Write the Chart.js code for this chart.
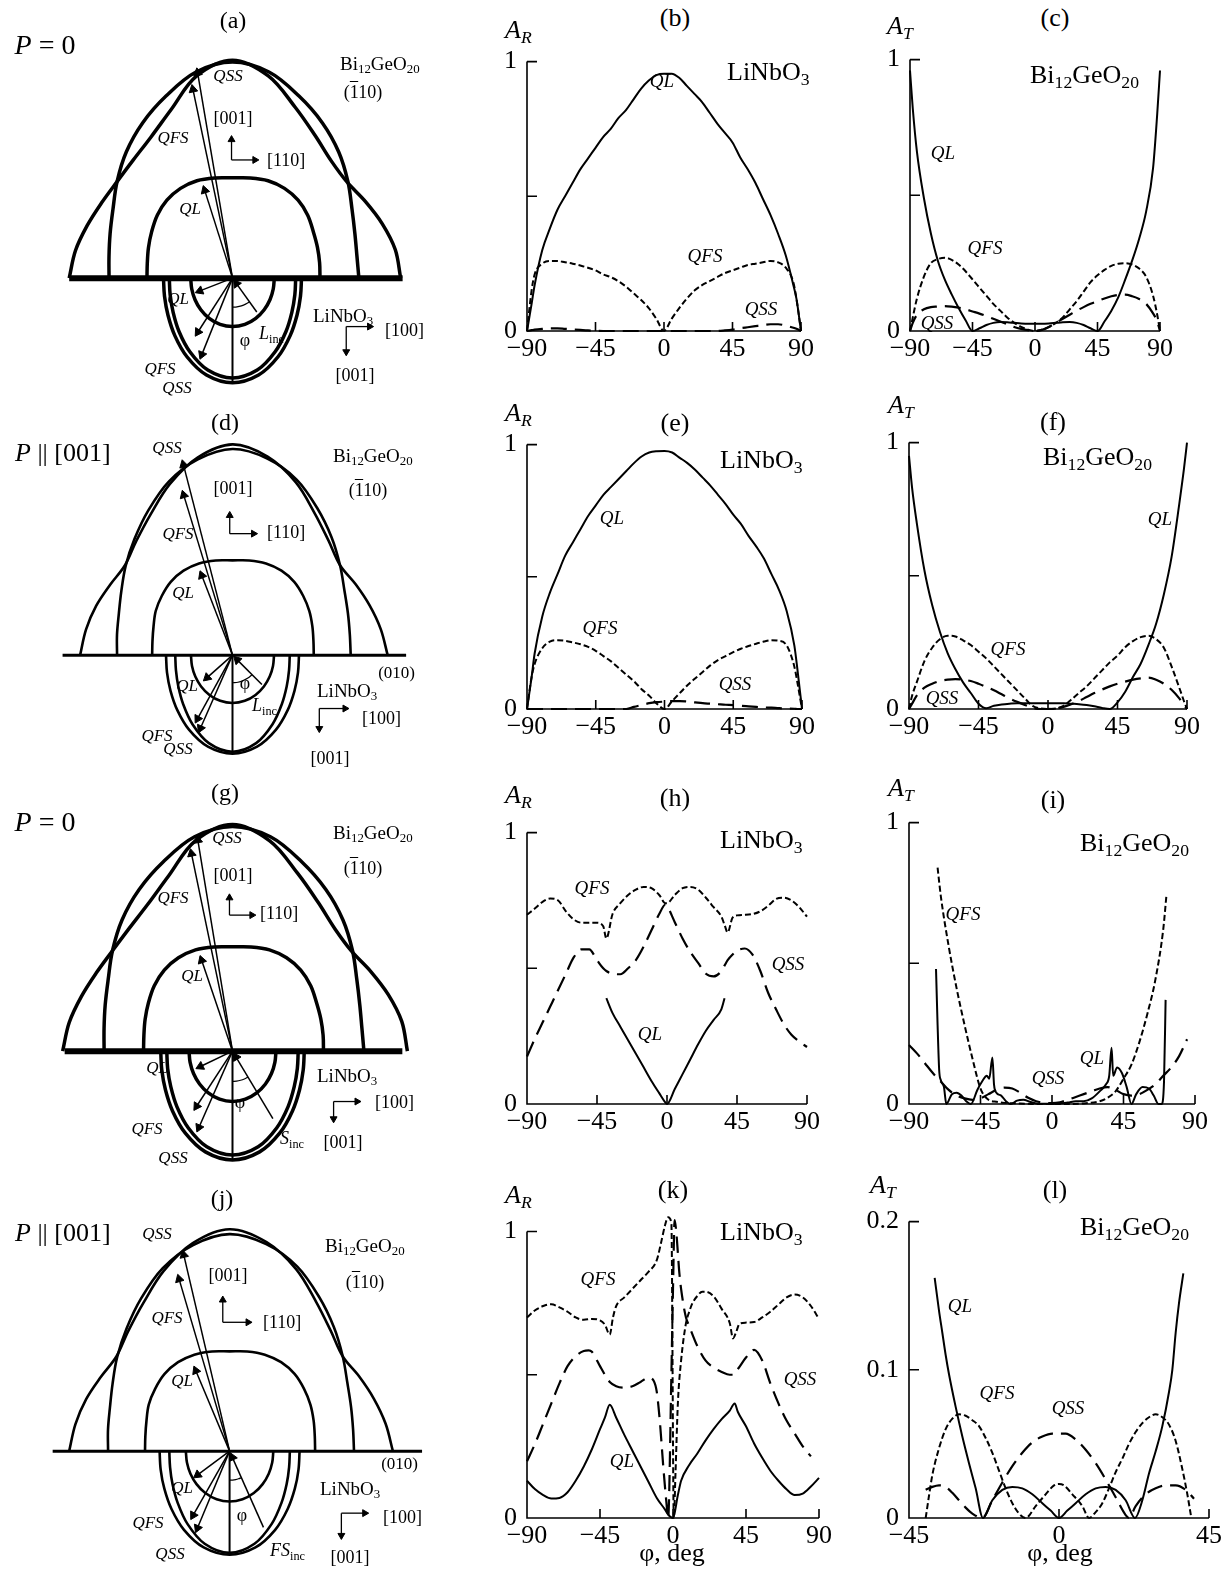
<!DOCTYPE html>
<html>
<head>
<meta charset="utf-8">
<script src="https://cdn.jsdelivr.net/npm/chart.js@4.4.1/dist/chart.umd.min.js"></script>
<style>
  body { margin: 0; background: #fff; }
  #page { position: relative; width: 1228px; height: 1581px; overflow: hidden; background: #fff;
          font-family: 'Liberation Serif', 'Times New Roman', serif; color: #000; }
  canvas { position: absolute; }
  .t { position: absolute; white-space: nowrap; line-height: 1; transform: translate(-50%, -50%); }
  .t.l { transform: translate(0, -50%); }
  .t.r { transform: translate(-100%, -50%); }
  .t sub { font-size: 0.68em; vertical-align: -0.3em; line-height: 0; }
  .ov { text-decoration: overline; }
</style>
</head>
<body>
<div id="page"></div>
<script>
// ---------- amplitude curves (phi in degrees) ----------
const bPhi = [-90,-87,-85,-80,-75,-70,-65,-60,-55,-50,-45,-40,-35,-30,-25,-20,-15,-10,-5,0,5,10,15,20,25,30,35,40,45,50,55,60,65,70,75,80,85,87,90];
const bQL  = [0,0.1,0.17, 0.3,0.38,0.45,0.5,0.55,0.6,0.64,0.68,0.72,0.75,0.79,0.82,0.86,0.9,0.93,0.95, 0.955, 0.955,0.94,0.91,0.88,0.85,0.81,0.77,0.735,0.7,0.645,0.6,0.55,0.49,0.43,0.36,0.28,0.17, 0.12,0];
const bQFS = [0,0.15,0.21, 0.25,0.26,0.26,0.255,0.25,0.243,0.235,0.225,0.21,0.2,0.185,0.165,0.14,0.115,0.085,0.045, 0, 0.045,0.085,0.12,0.15,0.17,0.185,0.2,0.215,0.225,0.235,0.245,0.25,0.255,0.26,0.255,0.235,0.18, 0.12,0];
const bQSS = [0,0.003,0.005, 0.008,0.01,0.01,0.008,0.006,0.004,0.002,0.001,0,0,0,0,0,0,0,0, 0, 0,0,0,0,0,0,0,0.002,0.005,0.01,0.014,0.018,0.022,0.025,0.025,0.02,0.012, 0.008,0];

const cPhi = [-90,-88,-85,-80,-75,-70,-65,-60,-55,-50,-45,-40,-35,-30,-25,-20,-15,-10,-5,0,5,10,15,20,25,30,35,40,45,50,55,60,65,70,75,80,85,88,90];
const cQL  = [0.96,0.82,0.66, 0.49,0.36,0.26,0.19,0.135,0.085,0.04,0,0.01,0.022,0.03,0.033,0.032,0.03,0.028,0.027, 0.027, 0.027,0.028,0.03,0.032,0.033,0.03,0.022,0.01,0,0.035,0.075,0.125,0.19,0.26,0.34,0.44,0.6, 0.8,0.96];
const cQFS = [0,0.05,0.12, 0.2,0.25,0.265,0.27,0.262,0.245,0.22,0.19,0.16,0.13,0.1,0.075,0.05,0.03,0.015,0.005, 0, 0.005,0.015,0.03,0.05,0.08,0.11,0.145,0.18,0.205,0.225,0.24,0.248,0.25,0.245,0.23,0.2,0.13, 0.06,0];
const cQSS = [0,0.03,0.06, 0.08,0.088,0.09,0.092,0.09,0.086,0.08,0.072,0.064,0.055,0.045,0.035,0.025,0.015,0.008,0.003, 0, 0.004,0.015,0.03,0.045,0.06,0.075,0.088,0.1,0.11,0.12,0.128,0.133,0.134,0.128,0.118,0.1,0.065, 0.035,0];

const ePhi = bPhi;
const eQL  = [0,0.12,0.21, 0.35,0.44,0.51,0.58,0.63,0.68,0.73,0.77,0.81,0.84,0.87,0.9,0.93,0.955,0.97,0.975, 0.976, 0.97,0.95,0.93,0.905,0.875,0.845,0.81,0.775,0.735,0.7,0.655,0.615,0.57,0.51,0.45,0.37,0.24, 0.15,0];
const eQFS = [0,0.12,0.17, 0.23,0.255,0.26,0.258,0.252,0.245,0.235,0.22,0.2,0.18,0.155,0.13,0.105,0.075,0.05,0.02, 0, 0.03,0.06,0.09,0.115,0.14,0.165,0.185,0.2,0.215,0.228,0.238,0.247,0.255,0.26,0.258,0.24,0.16, 0.1,0];
const eQSS = [0,0,0, 0,0,0,0,0,0,0,0,0,0,0,0,0.008,0.015,0.022,0.026, 0.028, 0.03,0.03,0.028,0.025,0.022,0.02,0.018,0.016,0.015,0.012,0.01,0.008,0.006,0.005,0.003,0.002,0.001, 0,0];

const fPhi = cPhi;
const fQL  = [0.95,0.83,0.7, 0.52,0.39,0.29,0.21,0.15,0.1,0.06,0.02,0.003,0.012,0.017,0.02,0.022,0.022,0.022,0.022, 0.022, 0.022,0.022,0.02,0.018,0.015,0.01,0.004,0,0.025,0.065,0.12,0.17,0.24,0.32,0.43,0.57,0.77, 0.9,1.0];
const fQFS = [0,0.05,0.1, 0.18,0.23,0.262,0.275,0.272,0.258,0.24,0.215,0.19,0.16,0.13,0.1,0.07,0.04,0.012,0.002, 0, 0.002,0.012,0.035,0.06,0.085,0.115,0.145,0.175,0.2,0.232,0.255,0.27,0.275,0.262,0.23,0.16,0.08, 0.03,0];
const fQSS = [0,0.02,0.05, 0.08,0.095,0.105,0.11,0.112,0.11,0.105,0.095,0.083,0.07,0.055,0.04,0.027,0.015,0.004,0, 0, 0.002,0.008,0.018,0.03,0.045,0.06,0.073,0.085,0.095,0.103,0.11,0.115,0.118,0.11,0.095,0.072,0.04, 0.015,0];

const hPhi = [-90,-85,-80,-75,-70,-65,-60,-55,-50,-45, -41,-39, -35,-30,-25,-20,-15,-10,-5,-1, 0, 5,10,15,20,25,30,35, 37,39,42,45, 50,55,60,65,70,75,80,85,90];
const hQL  = [null,null,null,null,null,null,null,null,null,null, null,0.39, 0.335,0.285,0.235,0.185,0.135,0.085,0.04,0.005, 0, 0.055,0.11,0.165,0.22,0.27,0.31,0.35, 0.39,null,null,null, null,null,null,null,null,null,null,null,null];
const hQFS = [0.697,0.72,0.745,0.757,0.75,0.71,0.68,0.668,0.668,0.668, 0.655,0.61, 0.7,0.74,0.77,0.79,0.8,0.795,0.77,0.74, 0.74, 0.77,0.795,0.8,0.79,0.76,0.725,0.69, 0.66,0.632,0.685,0.695, 0.697,0.7,0.71,0.73,0.755,0.76,0.75,0.725,0.69];
const hQSS = [0.175,0.24,0.3,0.36,0.42,0.48,0.54,0.57,0.57,0.53, 0.5,0.49, 0.48,0.478,0.5,0.53,0.58,0.64,0.7,0.735, 0.73, 0.67,0.61,0.56,0.52,0.48,0.47,0.49, 0.51,0.53,0.55,0.565, 0.573,0.55,0.49,0.41,0.35,0.295,0.255,0.23,0.21];

const iQLPhi  = [-73,-72,-71,-70,-68,-66.5,-63,-60,-57,-54,-51,-47,-44,-41,-39.5,-37.5,-36.5,-35,-32,-29,-26,-22,-18,-14,-10,-5,0,5,10,15,20,25,30,34,36,37.5,38.5,41,44,47,50,53,57,61,64,67,69,70.5,71.5];
const iQL     = [0.48,0.28,0.12,0.085,0.06,0,0.035,0.04,0.03,0.01,0,0.05,0.08,0.1,0.09,0.165,0.07,0.04,0.03,0.01,0,0.012,0.015,0.008,0.002,0.001,0,0.002,0.005,0.01,0.01,0.02,0.045,0.07,0.1,0.2,0.1,0.13,0.11,0.06,0,0.035,0.06,0.055,0.03,0,0,0.08,0.37];
const iQFSPhi = [-72,-70,-65,-60,-55,-50,-45,-40,-35,-30,-20,-10,0,10,20,30,35,40,45,50,55,60,65,70,72];
const iQFS    = [0.84,0.74,0.56,0.41,0.28,0.16,0.055,0.015,0.008,0.004,0.002,0,0,0,0.002,0.01,0.022,0.045,0.09,0.14,0.22,0.32,0.44,0.62,0.74];
const iQSSPhi = [-90,-85,-80,-75,-70,-65,-60,-55,-50,-45,-40,-35,-30,-25,-20,-15,-10,-5,0,5,10,15,20,25,30,35,40,45,50,55,60,65,70,75,80,85];
const iQSS    = [0.21,0.18,0.145,0.11,0.08,0.05,0.03,0.02,0.015,0.02,0.035,0.05,0.058,0.055,0.04,0.022,0.01,0.004,0.003,0.006,0.015,0.025,0.035,0.045,0.055,0.06,0.05,0.035,0.03,0.035,0.05,0.07,0.1,0.13,0.17,0.23];

const kQLPhi  = [-90,-85,-80,-75,-70,-65,-60,-55,-50,-45,-42,-39,-35,-30,-25,-20,-15,-10,-5,-3,0,3,5,10,15,20,25,30,35,38,40,45,50,55,60,65,70,75,80,85,90];
const kQL     = [0.13,0.1,0.08,0.068,0.07,0.09,0.13,0.18,0.24,0.31,0.35,0.395,0.35,0.29,0.235,0.18,0.125,0.07,0.03,0.012,0,0.08,0.13,0.185,0.225,0.27,0.31,0.345,0.375,0.4,0.37,0.32,0.26,0.21,0.165,0.13,0.1,0.08,0.085,0.11,0.14];
const kQFSPhi = [-90,-85,-80,-75,-70,-65,-60,-55,-50,-45,-42,-39,-37,-35,-30,-25,-20,-15,-10,-7,-5,-3,-1,0.5,1.5,3,5,8,10,12,15,18,20,25,30,35,37,39,41,45,50,55,60,65,70,75,80,85,90];
const kQFS    = [0.7,0.725,0.74,0.746,0.735,0.72,0.7,0.692,0.695,0.69, 0.675,0.64,0.7,0.74, 0.77,0.8,0.83,0.86,0.9, 0.97,1.02,1.05,1.03, 0,0.15,0.4,0.55,0.68, 0.72,0.75,0.775,0.79,0.79, 0.774,0.73,0.68,0.627,0.65,0.678, 0.682,0.684,0.7,0.72,0.745,0.77,0.78,0.77,0.74,0.695];
const kQSSPhi = [-90,-85,-80,-75,-70,-65,-60,-55,-52,-50,-45,-42,-39,-35,-30,-25,-20,-15,-12,-10,-8,-6,-4,-3,-1,0,1,2,4,6,8,10,15,20,25,30,35,37,40,45,50,55,60,65,70,75,80,85];
const kQSS    = [0.198,0.26,0.33,0.4,0.47,0.53,0.565,0.583,0.585,0.58,0.53,0.5,0.475,0.46,0.455,0.46,0.475,0.49,0.48,0.44,0.33,0.18,0.05,0,0.5,0.8,1.04,1.0,0.85,0.76,0.7,0.67,0.6,0.55,0.525,0.51,0.5,0.5,0.52,0.56,0.587,0.55,0.47,0.4,0.34,0.295,0.25,0.215];

const lQLPhi  = [-37.3,-36,-35,-34,-33,-31,-29,-27,-25,-22.8,-20,-17,-14,-11,-8,-5,-2.5,0,2.5,5,8,11,14,17,20,22.8,25,27,29,31,33,34,35,36,37.3];
const lQL     = [0.162,0.14,0.125,0.11,0.097,0.075,0.055,0.037,0.02,0, 0.012,0.019,0.021,0.02,0.016,0.01,0.005,0, 0.005,0.01,0.016,0.02,0.021,0.019,0.012,0, 0.012,0.03,0.045,0.062,0.085,0.1,0.125,0.145,0.165];
const lQFSPhi = [-40,-39,-38,-36,-34,-32,-30,-28,-26,-24,-22,-20,-18,-16,-14,-12,-10,-7,-4,-1.5,0,1.5,4,7,9,11,13,15,17,19,21,23,25,27,29,31,33,35,37,38.5,39.7];
const lQFS    = [0,0.015,0.029,0.047,0.06,0.067,0.07,0.069,0.066,0.062,0.054,0.044,0.032,0.02,0.01,0.003,0, 0.008,0.016,0.022,0.023,0.022,0.016,0.008,0, 0.004,0.01,0.02,0.031,0.04,0.05,0.058,0.064,0.068,0.07,0.068,0.063,0.052,0.033,0.016,0];
const lQSSPhi = [-40,-38,-36,-34,-32,-30,-28,-26,-23,-20,-17,-14,-11,-8,-5,-2,0,2,5,8,11,14,17,20,21,23,26,29,32,35,38,40.5];
const lQSS    = [0.019,0.021,0.022,0.021,0.017,0.012,0.007,0.003,0,0.012,0.024,0.035,0.044,0.051,0.055,0.057,0.057,0.057,0.053,0.046,0.037,0.026,0.014,0.002,0,0.008,0.016,0.02,0.022,0.022,0.019,0.013];

// ---------- slowness / velocity diagrams (polar: angle deg, radius) ----------
const upAngle = [-90,-80,-70,-60,-50,-40,-30,-20,-10,0,10,20,30,40,50,60,70,80,90];
const p0Tent  = [168,164,159,155.5,155,159,168,185,212,225,212,188,170,158,154,158,164,170,173];
const p0Arch  = [127,129,134,142,155,170,185,200,216,223,216,200,185,170,155,142,134,130,130];
const p0QL    = [88,89,92,96,101,105,107,107,105,103.5,105,107,107,105,101,96,93,91,90];
const pzTent  = [165,161,157,153,152,162,177,198,218,229,219,200,178,162,152,154,158,163,168];
const pzArch  = [125,127,131,139,151,165,182,201,216,224,217,203,184,167,152,140,133,129,128];
const pzQL    = [87,88,91,96,100,104,106,106,104.5,103,104.5,106,106,104,100,96,92,89,88];

const loAngle = [-90,-75,-60,-45,-30,-15,0,15,30,45,60,75,90];
const p0LoQL  = [43,43.4,44.5,46.1,47.9,49.4,50,49.4,47.9,46.1,44.5,43.4,43];
const p0LoQFS = [65,66.4,70.5,77.8,87.7,98.2,103,98.2,87.7,77.8,70.5,66.4,65];
const p0LoQSS = [71,72.4,76.6,83.9,93.7,103.5,108,103.5,93.7,83.9,76.6,72.4,71];
const pzLoQL  = [45,45.4,46.5,48.1,49.9,51.4,52,51.4,49.9,48.1,46.5,45.4,45];
const pzLoQFS = [62,63.4,67.8,75.5,86.7,99,105,99,86.7,75.5,67.8,63.4,62];
const pzLoQSS = [72,73.4,77.5,84.5,93.8,102.9,107,102.9,93.8,84.5,77.5,73.4,72];

// arrows: [angle, length]  (upper QSS, QFS, QL ; lower QL, QFS, QSS)
const aArrows = [[-9.6,220],[-11.8,204],[-17.5,100],[-68.6,41],[-32.6,71],[-21.8,90]];
const dArrows = [[-14.4,219],[-16.9,187],[-21,98],[-48.4,42],[-28.7,84],[-23.6,92]];
const gArrows = [[-9.3,217],[-11.7,205],[-18.7,100],[-64.4,40],[-33,70],[-23.7,87.5]];
const jArrows = [[-13.1,213],[-16.3,190],[-22.7,95],[-53.3,46],[-29.5,81],[-22.6,91]];
// incident wave: [angle, length]
const aIncident = [35.5, 43];
const dIncident = [45, 45];
const gIncident = [30.8, 78];
const jIncident = [23.9, 86];

// ---------- helpers ----------
Chart.defaults.font.family = "'Liberation Serif', 'Times New Roman', serif";
Chart.defaults.color = '#000';
const page = document.getElementById('page');
const RAD = Math.PI / 180;

function addCanvas(left, top, w, h) {
  const c = document.createElement('canvas');
  c.width = w; c.height = h;
  c.style.left = left + 'px'; c.style.top = top + 'px';
  c.style.width = w + 'px'; c.style.height = h + 'px';
  page.appendChild(c);
  return c;
}
function put(html, x, y, size, align) {
  const d = document.createElement('div');
  d.className = 't' + (align ? ' ' + align : '');
  d.style.left = x + 'px'; d.style.top = y + 'px'; d.style.fontSize = size + 'px';
  d.innerHTML = html;
  page.appendChild(d);
}
const pts = (phi, v) => phi.map((x, i) => ({x, y: v[i]}));

const lineStyle = {
  QL:  {borderDash: [], borderWidth: 2},
  QFS: {borderDash: [6, 3], borderWidth: 2},
  QSS: {borderDash: [16, 8], borderWidth: 2.2}
};

// axis lines with inward ticks, drawn from the chart scales
const inAxes = {
  id: 'inAxes',
  beforeDatasetsDraw(chart, args, o) {
    const {ctx, scales: {x, y}} = chart;
    const x0 = x.getPixelForValue(x.min), x1 = x.getPixelForValue(x.max);
    const y0 = y.getPixelForValue(0), yT = y.getPixelForValue(o.yt[o.yt.length - 1]);
    ctx.save();
    ctx.strokeStyle = '#000'; ctx.lineWidth = 1.6;
    ctx.beginPath();
    ctx.moveTo(x0, yT); ctx.lineTo(x0, y0); ctx.lineTo(x1, y0);
    o.xt.filter(v => v > x.min).forEach(v => {
      const p = x.getPixelForValue(v); ctx.moveTo(p, y0); ctx.lineTo(p, y0 - 9);
    });
    o.yt.filter(v => v > 0).forEach(v => {
      const p = y.getPixelForValue(v); ctx.moveTo(x0, p); ctx.lineTo(x0 + 10, p);
    });
    ctx.stroke();
    ctx.restore();
  }
};

function graph(box, xr, yr, xt, yt, ylab, series) {
  const [l, r, y0, yTopPx] = box;
  const ppu = (y0 - yTopPx) / yt[yt.length - 1];
  const t = y0 - yr[1] * ppu;
  const padT = 16, padR = 22, axW = 50, axH = 40;
  const cv = addCanvas(l - axW, Math.round(t) - padT, (r - l) + axW + padR, Math.round(y0 - t) + padT + axH);
  new Chart(cv, {
    type: 'line',
    data: {
      datasets: series.map(s => Object.assign({
        data: pts(s[1], s[2]), borderColor: '#000', pointRadius: 0, fill: false,
        cubicInterpolationMode: 'monotone', tension: 0.4, clip: false, spanGaps: false
      }, lineStyle[s[0]]))
    },
    options: {
      responsive: false, animation: false, events: [], devicePixelRatio: 1,
      layout: {padding: {top: padT, right: padR, left: 0, bottom: 0}},
      plugins: {legend: {display: false}, tooltip: {enabled: false}, inAxes: {xt, yt}},
      scales: {
        x: {
          type: 'linear', min: xr[0], max: xr[1],
          grid: {display: false, drawTicks: false}, border: {display: false},
          afterFit: s => { s.height = axH; },
          afterBuildTicks: s => { s.ticks = xt.map(v => ({value: v})); },
          ticks: {padding: 3, font: {size: 26}, color: '#000', maxRotation: 0, autoSkip: false,
                  callback: v => String(v).replace('-', '\u2212')}
        },
        y: {
          type: 'linear', min: yr[0], max: yr[1],
          grid: {display: false, drawTicks: false}, border: {display: false},
          afterFit: s => { s.width = axW; },
          afterBuildTicks: s => { s.ticks = yt.map(v => ({value: v})); },
          ticks: {padding: 10, font: {size: 26}, color: '#000', autoSkip: false,
                  callback: v => { const i = yt.indexOf(v); return i < 0 ? '' : ylab[i]; }}
        }
      }
    },
    plugins: [inAxes]
  });
}

const polar = (ang, rad, down) =>
  ang.map((a, i) => ({x: rad[i] * Math.sin(a * RAD), y: (down ? -1 : 1) * rad[i] * Math.cos(a * RAD)}));

function diagram(g) {
  const {ox, oy, s} = g;
  const W = 430, H = 385, above = 252;
  const cv = addCanvas(0, oy - above, W, H);
  const ds = [];
  const line = (data, w, tension) => ds.push({data, borderColor: '#000', borderWidth: w,
    pointRadius: 0, fill: false, tension: tension || 0, clip: false});
  const arrow = (from, to, w, size) => {
    const dx = to.x - from.x, dy = to.y - from.y, L = Math.hypot(dx, dy);
    const back = size / s;
    const tip = {x: to.x - dx / L * back, y: to.y - dy / L * back};
    ds.push({data: [from, tip], borderColor: '#000', backgroundColor: '#000', borderWidth: w,
      pointStyle: 'triangle', pointRadius: [0, size], pointRotation: [0, Math.atan2(dx, dy) / RAD],
      pointBackgroundColor: '#000', pointBorderColor: '#000', pointBorderWidth: 1, fill: false, clip: false});
  };
  const O = {x: 0, y: 0};
  // crystal boundary
  line([{x: g.base[0], y: 0}, {x: g.base[1], y: 0}], g.bw);
  // Bi12GeO20 (upper) and LiNbO3 (lower) curves
  g.up.forEach(r => line(polar(upAngle, r, false), g.lw, 0.35));
  g.lo.forEach(r => line(polar(loAngle, r, true), g.lw, 0.35));
  line([O, {x: 0, y: -g.lo[2][6]}], 2);
  // wave vectors
  g.arrows.forEach(([a, len], i) => {
    const down = i >= 3;
    arrow(O, {x: len * Math.sin(a * RAD), y: (down ? -1 : 1) * len * Math.cos(a * RAD)}, 1.5, 5);
  });
  const [ia, il] = g.inc;
  arrow({x: il * Math.sin(ia * RAD), y: -il * Math.cos(ia * RAD)}, {x: 2 * Math.sin(ia * RAD), y: -2 * Math.cos(ia * RAD)}, 1.5, 5);
  // angle mark phi
  line([0, 0.25, 0.5, 0.75, 1].map(f => ({x: 30 * Math.sin(f * ia * RAD), y: -30 * Math.cos(f * ia * RAD)})), 1.2, 0.4);
  // crystal axes glyphs
  const [ux, uy, ul, ur] = g.axU, [lx, ly, lr, ld] = g.axL;
  arrow({x: ux, y: uy}, {x: ux, y: uy + ul}, 1.3, 4);
  arrow({x: ux, y: uy}, {x: ux + ur, y: uy}, 1.3, 4);
  arrow({x: lx, y: ly}, {x: lx + lr, y: ly}, 1.3, 4);
  arrow({x: lx, y: ly}, {x: lx, y: ly - ld}, 1.3, 4);
  new Chart(cv, {
    type: 'line',
    data: {datasets: ds},
    options: {
      responsive: false, animation: false, events: [], devicePixelRatio: 1,
      layout: {padding: 0},
      plugins: {legend: {display: false}, tooltip: {enabled: false}},
      scales: {
        x: {type: 'linear', display: false, min: -ox / s, max: (W - ox) / s},
        y: {type: 'linear', display: false, min: -(H - above) / s, max: above / s}
      }
    }
  });
}

// ---------- left column: diagrams ----------
diagram({ox: 233, oy: 280, s: 1, lw: 3.5, bw: 6, base: [-168, 175],
  up: [p0Tent, p0Arch, p0QL], lo: [p0LoQL, p0LoQFS, p0LoQSS],
  arrows: aArrows, inc: aIncident, axU: [-1, 122, 25, 28], axL: [117, -50, 28, 30]});
diagram({ox: 233, oy: 657, s: 0.95, lw: 2.6, bw: 3, base: [-184, 188],
  up: [pzTent, pzArch, pzQL], lo: [pzLoQL, pzLoQFS, pzLoQSS],
  arrows: dArrows, inc: dIncident, axU: [-3, 132, 24, 30], axL: [94, -58, 32, 26]});
diagram({ox: 233, oy: 1053, s: 1.04, lw: 3.5, bw: 6, base: [-166, 168],
  up: [p0Tent, p0Arch, p0QL], lo: [p0LoQL, p0LoQFS, p0LoQSS],
  arrows: gArrows, inc: gIncident, axU: [-3, 135, 21, 26], axL: [100, -50, 27, 21]});
diagram({ox: 230, oy: 1453, s: 1, lw: 2.6, bw: 3, base: [-182, 198],
  up: [pzTent, pzArch, pzQL], lo: [pzLoQL, pzLoQFS, pzLoQSS],
  arrows: jArrows, inc: jIncident, axU: [-7, 133, 27, 30], axL: [115, -64, 28, 27]});

// ---------- middle / right columns: amplitude plots ----------
const x90 = [-90, -45, 0, 45, 90], y01 = [0, 0.5, 1], y01lab = ['0', '', '1'];
graph([527, 801, 331, 52], [-90, 90], [0, 1], x90, y01, y01lab,
  [['QL', bPhi, bQL], ['QFS', bPhi, bQFS], ['QSS', bPhi, bQSS]]);
graph([910, 1160, 331, 50], [-90, 90], [0, 1], x90, y01, y01lab,
  [['QL', cPhi, cQL], ['QFS', cPhi, cQFS], ['QSS', cPhi, cQSS]]);
graph([527, 802, 709, 435], [-90, 90], [0, 1], x90, y01, y01lab,
  [['QL', ePhi, eQL], ['QFS', ePhi, eQFS], ['QSS', ePhi, eQSS]]);
graph([909, 1187, 709, 433], [-90, 90], [0, 1], x90, y01, y01lab,
  [['QL', fPhi, fQL], ['QFS', fPhi, fQFS], ['QSS', fPhi, fQSS]]);
graph([527, 807, 1104, 823], [-90, 90], [0, 1], x90, y01, y01lab,
  [['QL', hPhi, hQL], ['QFS', hPhi, hQFS], ['QSS', hPhi, hQSS]]);
graph([909, 1195, 1104, 813], [-90, 90], [0, 1], x90, y01, y01lab,
  [['QL', iQLPhi, iQL], ['QFS', iQFSPhi, iQFS], ['QSS', iQSSPhi, iQSS]]);
graph([527, 819, 1518, 1223], [-90, 90], [0, 1.08], x90, y01, y01lab,
  [['QL', kQLPhi, kQL], ['QFS', kQFSPhi, kQFS], ['QSS', kQSSPhi, kQSS]]);
graph([909, 1209, 1518, 1212], [-45, 45], [0, 0.2], [-45, 0, 45], [0, 0.1, 0.2], ['0', '0.1', '0.2'],
  [['QL', lQLPhi, lQL], ['QFS', lQFSPhi, lQFS], ['QSS', lQSSPhi, lQSS]]);

// ---------- text ----------
const BGO = 'Bi<sub>12</sub>GeO<sub>20</sub>', LNO = 'LiNbO<sub>3</sub>';
const PL = '(<span class="ov">1</span>10)';
const AR = '<i>A</i><sub><i>R</i></sub>', AT = '<i>A</i><sub><i>T</i></sub>';
const texts = [
  // (a)
  ['<i>P</i> = 0', 45, 45, 28], ['(a)', 233, 20, 24], [BGO, 340, 63, 19, 'l'], [PL, 363, 92, 18],
  ['[001]', 233, 118, 18], ['[110]', 267, 160, 18, 'l'], ['<i>QSS</i>', 228, 75, 17], ['<i>QFS</i>', 173, 137, 17],
  ['<i>QL</i>', 190, 208, 17], [LNO, 313, 315, 19, 'l'], ['[100]', 385, 330, 18, 'l'], ['[001]', 355, 375, 18],
  ['<i>QL</i>', 178, 298, 17], ['<i>QFS</i>', 160, 368, 17], ['<i>QSS</i>', 177, 387, 17], ['\u03c6', 245, 340, 18],
  ['<i>L</i><sub>inc</sub>', 259, 333, 18, 'l'],
  // (d)
  ['<i>P</i> || [001]', 15, 453, 26, 'l'], ['(d)', 225, 422, 24], [BGO, 333, 455, 19, 'l'], [PL, 368, 490, 18],
  ['[001]', 233, 488, 18], ['[110]', 267, 532, 18, 'l'], ['<i>QSS</i>', 167, 447, 17], ['<i>QFS</i>', 178, 533, 17],
  ['<i>QL</i>', 183, 592, 17], ['(010)', 415, 672, 17, 'r'], [LNO, 317, 690, 19, 'l'], ['[100]', 362, 718, 18, 'l'],
  ['[001]', 330, 758, 18], ['<i>QL</i>', 187, 685, 17], ['<i>QFS</i>', 157, 735, 17], ['<i>QSS</i>', 178, 748, 17],
  ['\u03c6', 245, 683, 18], ['<i>L</i><sub>inc</sub>', 252, 705, 18, 'l'],
  // (g)
  ['<i>P</i> = 0', 45, 822, 28], ['(g)', 225, 792, 24], [BGO, 333, 832, 19, 'l'], [PL, 363, 868, 18],
  ['[001]', 233, 875, 18], ['[110]', 260, 913, 18, 'l'], ['<i>QSS</i>', 227, 837, 17], ['<i>QFS</i>', 173, 897, 17],
  ['<i>QL</i>', 192, 975, 17], [LNO, 317, 1075, 19, 'l'], ['[100]', 375, 1102, 18, 'l'], ['[001]', 343, 1142, 18],
  ['<i>QL</i>', 157, 1067, 17], ['<i>QFS</i>', 147, 1128, 17], ['<i>QSS</i>', 173, 1157, 17], ['\u03c6', 240, 1102, 18],
  ['<i>S</i><sub>inc</sub>', 280, 1138, 18, 'l'],
  // (j)
  ['<i>P</i> || [001]', 15, 1233, 26, 'l'], ['(j)', 222, 1198, 24], [BGO, 325, 1245, 19, 'l'], [PL, 365, 1282, 18],
  ['[001]', 228, 1275, 18], ['[110]', 263, 1322, 18, 'l'], ['<i>QSS</i>', 157, 1233, 17], ['<i>QFS</i>', 167, 1317, 17],
  ['<i>QL</i>', 182, 1380, 17], ['(010)', 418, 1463, 17, 'r'], [LNO, 320, 1488, 19, 'l'], ['[100]', 383, 1517, 18, 'l'],
  ['[001]', 350, 1557, 18], ['<i>QL</i>', 182, 1487, 17], ['<i>QFS</i>', 148, 1522, 17], ['<i>QSS</i>', 170, 1553, 17],
  ['\u03c6', 242, 1515, 18], ['<i>FS</i><sub>inc</sub>', 270, 1550, 18, 'l'],
  // (b) (c)
  ['(b)', 675, 18, 26], [AR, 505, 30, 26, 'l'], [LNO, 727, 72, 26, 'l'],
  ['<i>QL</i>', 662, 80, 19], ['<i>QFS</i>', 705, 255, 19], ['<i>QSS</i>', 761, 308, 19],
  ['(c)', 1055, 18, 26], [AT, 887, 26, 26, 'l'], [BGO, 1030, 75, 26, 'l'],
  ['<i>QL</i>', 943, 152, 19], ['<i>QFS</i>', 985, 247, 19], ['<i>QSS</i>', 937, 322, 19],
  // (e) (f)
  ['(e)', 675, 423, 26], [AR, 505, 413, 26, 'l'], [LNO, 720, 460, 26, 'l'],
  ['<i>QL</i>', 612, 517, 19], ['<i>QFS</i>', 600, 627, 19], ['<i>QSS</i>', 735, 683, 19],
  ['(f)', 1053, 422, 26], [AT, 888, 405, 26, 'l'], [BGO, 1043, 457, 26, 'l'],
  ['<i>QL</i>', 1160, 518, 19], ['<i>QFS</i>', 1008, 648, 19], ['<i>QSS</i>', 942, 697, 19],
  // (h) (i)
  ['(h)', 675, 798, 26], [AR, 505, 795, 26, 'l'], [LNO, 720, 840, 26, 'l'],
  ['<i>QFS</i>', 592, 887, 19], ['<i>QSS</i>', 788, 963, 19], ['<i>QL</i>', 650, 1033, 19],
  ['(i)', 1053, 800, 26], [AT, 888, 788, 26, 'l'], [BGO, 1080, 843, 26, 'l'],
  ['<i>QFS</i>', 963, 913, 19], ['<i>QL</i>', 1092, 1057, 19], ['<i>QSS</i>', 1048, 1077, 19],
  // (k) (l)
  ['(k)', 673, 1190, 26], [AR, 505, 1195, 26, 'l'], [LNO, 720, 1232, 26, 'l'],
  ['<i>QFS</i>', 598, 1278, 19], ['<i>QSS</i>', 800, 1378, 19], ['<i>QL</i>', 622, 1460, 19],
  ['\u03c6, deg', 672, 1553, 26],
  ['(l)', 1055, 1190, 26], [AT, 870, 1185, 26, 'l'], [BGO, 1080, 1227, 26, 'l'],
  ['<i>QL</i>', 960, 1305, 19], ['<i>QFS</i>', 997, 1392, 19], ['<i>QSS</i>', 1068, 1407, 19],
  ['\u03c6, deg', 1060, 1553, 26]
];
texts.forEach(t => put(t[0], t[1], t[2], t[3], t[4]));
</script>
</body>
</html>
